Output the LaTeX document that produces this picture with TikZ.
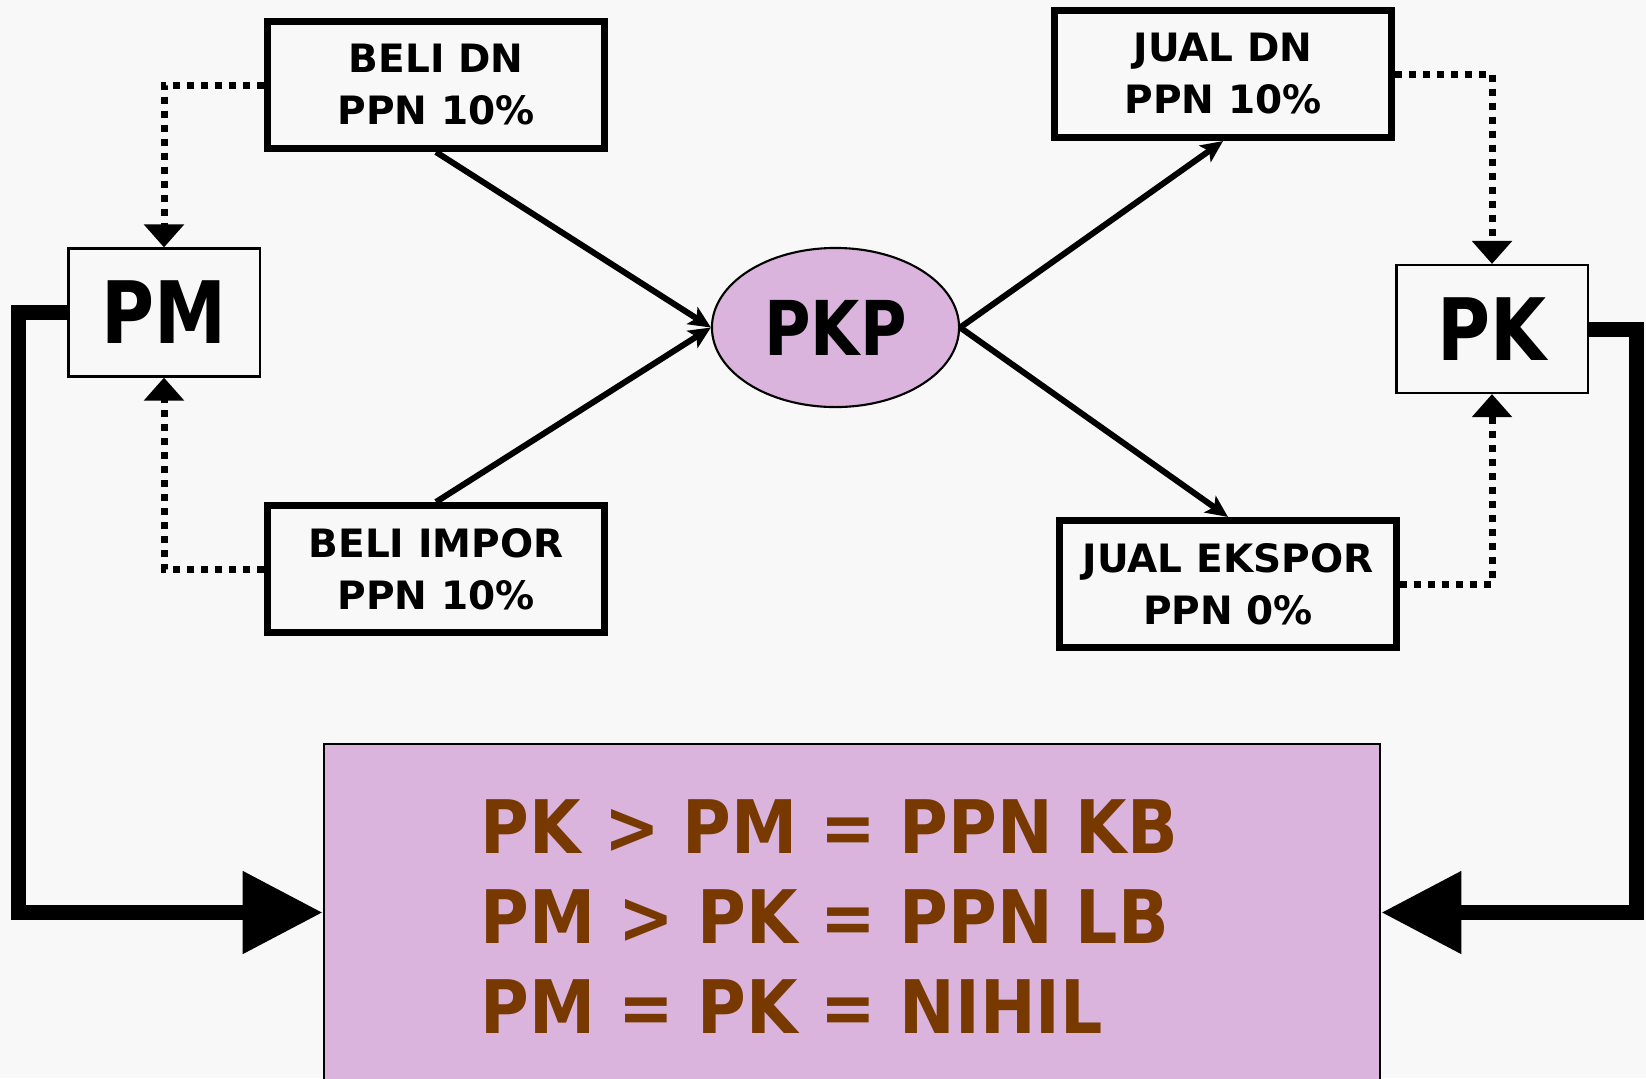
\documentclass[tikz,border=0pt]{standalone}
\usepackage{fontspec}
\setmainfont{DejaVu Sans}
\newfontfamily\lebarfont{DejaVu Sans}[FakeStretch=0.84]
\newfontfamily\sempitfont{DejaVu Sans}[FakeStretch=0.9]
\usetikzlibrary{arrows.meta, positioning, calc, shapes.geometric}
\definecolor{ungu}{RGB}{218,180,220}
\definecolor{coklat}{RGB}{119,57,0}
\definecolor{latar}{RGB}{248,248,248}

\begin{document}
\begin{tikzpicture}[
    x=0.01cm, y=-0.01cm,
    box/.style={
        draw=black,
        line width=0.07cm,
        align=center,
        inner sep=0pt,
        minimum width=3.36cm,
        minimum height=1.27cm,
        font=\bfseries\fontsize{11.1}{14.8}\selectfont
    },
    big/.style={
        draw=black,
        line width=0.6pt,
        inner sep=0pt,
        minimum width=1.91cm,
        minimum height=1.28cm,
        font=\lebarfont\bfseries\fontsize{24.5}{28}\selectfont
    },
    arrow/.style={
        -{Stealth[length=0.22cm, width=0.2cm, inset=0.05cm]},
        line width=0.06cm
    },
    dots/.style={
        -{Triangle[length=0.23cm, width=0.39cm]},
        line width=0.07cm,
        dash pattern=on 0.07cm off 0.07cm
    },
    feedback/.style={
        -{Triangle[length=0.8cm, width=0.79cm]},
        line width=0.15cm
    }
]

\useasboundingbox (0,0) rectangle (1646,1078);
\fill[latar] (0,0) rectangle (1646,1078);

% Nodes
\node (bdn) [box] at (436, 85) {BELI DN\\PPN 10\%};
\node (bimp) [box] at (436, 569) {BELI IMPOR\\PPN 10\%};
\node (jdn) [box] at (1223, 74) {JUAL DN\\PPN 10\%};
\node (jeks) [box] at (1228, 584) {JUAL EKSPOR\\PPN 0\%};

\node (pm) [big] at (164, 312.5) {PM};
\node (pk) [big] at (1492, 329) {PK};

\node (pkp) [ellipse, draw=black, line width=0.6pt, fill=ungu, inner sep=0pt,
    minimum width=2.47cm, minimum height=1.59cm,
    font=\lebarfont\bfseries\fontsize{21.5}{24}\selectfont] at (835.5, 327.5) {PKP};

\node (hasil) [draw=black, line width=0.6pt, fill=ungu,
    minimum width=10.56cm, minimum height=3.37cm] at (852, 912.5) {};
\node (rumus) [anchor=north west, inner sep=0pt, align=left, text=coklat,
    font=\sempitfont\bfseries\fontsize{21}{25.6}\selectfont] at (480, 799)
    {PK > PM = PPN KB\\PM > PK = PPN LB\\PM = PK = NIHIL};

% Paths
\draw [arrow] (bdn.south) -- (pkp.west);
\draw [arrow] (bimp.north) -- (pkp.west);
\draw [arrow] (pkp.east) -- (jdn.south);
\draw [arrow] (pkp.east) -- (jeks.north);

\draw [dots] (bdn.west) -| (pm.north);
\draw [dots] (bimp.west) -| (pm.south);
\draw [dots] (jdn.east) -| (pk.north);
\draw [dots] (jeks.east) -| (pk.south);

\draw [feedback] (pm.west) -- ++(-49,0) |- (hasil.west);
\draw [feedback] (pk.east) -- ++(48,0) |- (hasil.east);

\end{tikzpicture}
\end{document}
